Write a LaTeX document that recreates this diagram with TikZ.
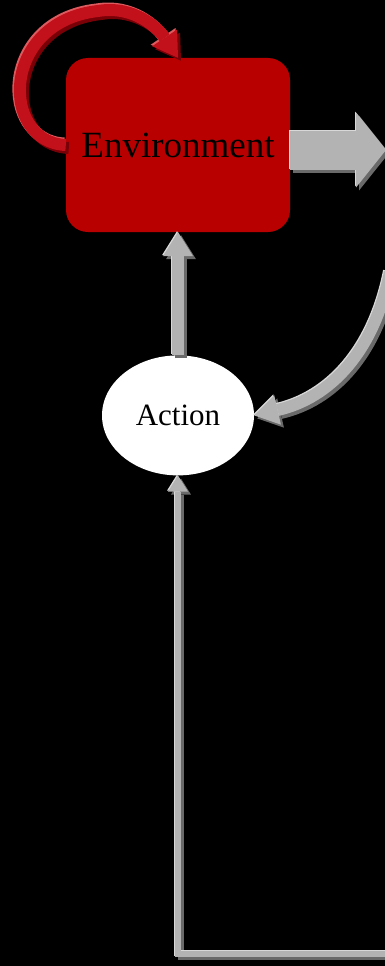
\documentclass[tikz,border=0pt]{standalone}
\usepackage{fontspec}
\setmainfont{Liberation Serif}
\usetikzlibrary{arrows.meta,positioning,shapes.geometric}
\definecolor{envred}{HTML}{B80000}
\definecolor{loopred}{HTML}{C2111B}
\definecolor{loopdark}{HTML}{7A0008}
\definecolor{looplight}{HTML}{DD5A5E}
\definecolor{flowgrey}{HTML}{B3B3B3}
\definecolor{flowshade}{HTML}{6A6A6A}
\definecolor{flowlight}{HTML}{D8D8D8}
\tikzset{
  envbox/.style={rectangle, rounded corners=22pt, fill=envred, minimum width=224pt,
                 minimum height=174pt, inner sep=0pt, font=\fontsize{37}{40}\selectfont},
  actnode/.style={ellipse, fill=white, minimum width=152pt, minimum height=120pt,
                  inner sep=0pt, font=\fontsize{31}{34}\selectfont},
  bigflow/.style={line width=39pt, -{Triangle[length=30pt, width=75pt, line width=0pt]}},
  curveflow/.style={line width=12pt, -{Triangle[length=24pt, width=30pt, line width=0pt]}},
  backflow/.style={line width=6pt, -{Triangle[length=16pt, width=20pt, line width=0pt]}}
}

\begin{document}
\begin{tikzpicture}[x=1pt, y=-1pt]

  %% Canvas
  \useasboundingbox (0,0) rectangle (385,966);
  \fill[black] (0,0) rectangle (385,966);
  \clip (0,0) rectangle (385,966);

  %% Nodes
  \node[envbox] (env) at (178,145) {Environment};
  \node[actnode, below=123pt of env] (act) {Action};

  \coordinate (outR) at (386,150);
  \coordinate (inR) at (390,272);
  \coordinate (loopR) at (390,954);
  \coordinate (loopC) at (act.south |- loopR);

  %% Self loop
  \foreach \dx/\dy/\col in {3pt/-3pt/loopdark, -1.5pt/1.5pt/looplight, 0pt/0pt/loopred}{
    \begin{scope}[transform canvas={shift={(\dx,\dy)}}]
      \draw[curveflow, draw=\col] (env.west) .. controls (0,142) and (0,22) .. (98,11)
            .. controls (134,5) and (158,28) .. (env.north);
    \end{scope}
  }

  %% Flows
  \foreach \dx/\dy/\col in {3pt/-3pt/flowshade, -1pt/1pt/flowlight, 0pt/0pt/flowgrey}{
    \begin{scope}[transform canvas={shift={(\dx,\dy)}}]
      \draw[bigflow, draw=\col] (env.east |- outR) -- (outR);
      \draw[curveflow, draw=\col] (inR) .. controls (374,352) and (330,398) .. (act.east);
      \draw[curveflow, draw=\col] (act.north) -- (env.south);
      \draw[backflow, draw=\col] (loopR) -- (loopC) -- (act.south);
    \end{scope}
  }

\end{tikzpicture}
\end{document}
